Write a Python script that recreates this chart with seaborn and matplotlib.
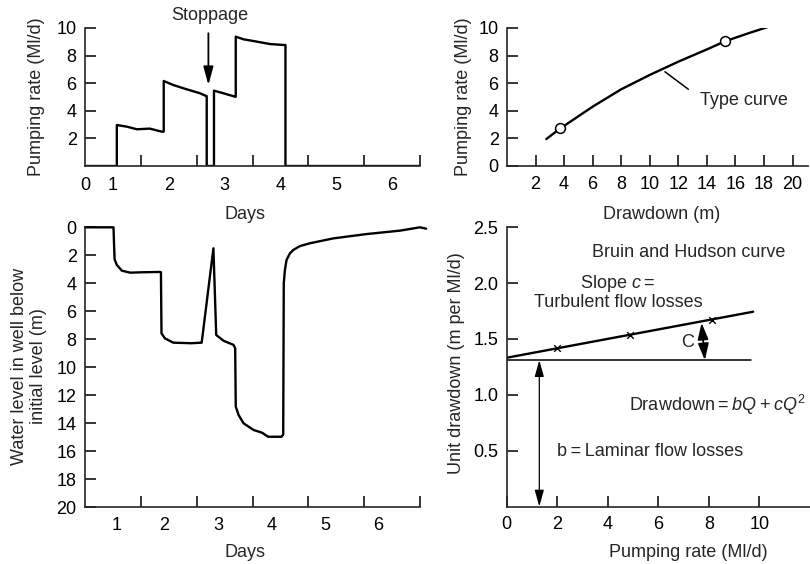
import matplotlib
matplotlib.use("Agg")
import matplotlib.pyplot as plt
import seaborn as sns

# ---------------- data ----------------
# Top-left: pumping rate (Ml/d) vs days (step record)
pump_days = [0.5, 1.07, 1.07, 1.25, 1.43, 1.66, 1.87, 1.91, 1.91, 2.08, 2.32, 2.56,
             2.67, 2.68, 2.68, 2.81, 2.81, 2.98, 3.19, 3.20, 3.20, 3.34, 3.58, 3.81,
             4.05, 4.09, 4.09, 6.5]
pump_rate = [0.0, 0.0, 2.97, 2.85, 2.66, 2.71, 2.49, 2.49, 6.16, 5.87, 5.56, 5.27,
             5.07, 5.07, 0.0, 0.0, 5.46, 5.27, 5.02, 5.02, 9.37, 9.18, 9.01, 8.84,
             8.77, 8.77, 0.0, 0.0]
stoppage_day = 2.71

# Top-right: type curve, pumping rate vs drawdown
type_draw = [2.75, 3.7, 6.0, 8.0, 10.0, 12.0, 14.0, 15.3, 17.0, 18.5]
type_rate = [1.95, 2.7, 4.3, 5.56, 6.6, 7.56, 8.45, 9.05, 9.65, 10.15]
obs_draw = [3.7, 15.3]
obs_rate = [2.72, 9.08]

# Bottom-left: water level below initial level (m) vs days
lvl_days = [0.5, 0.8, 1.01, 1.03, 1.07, 1.16, 1.31, 1.55, 1.84, 1.86, 1.87, 1.93, 2.08,
            2.40, 2.59, 2.80, 2.85, 2.98, 3.16, 3.19, 3.20, 3.25, 3.34, 3.52, 3.67,
            3.78, 4.02, 4.05, 4.06, 4.08, 4.11, 4.17, 4.23, 4.35, 4.53, 4.95, 5.55,
            6.14, 6.50, 6.61]
lvl_depth = [0.0, 0.0, 0.0, 2.29, 2.69, 3.10, 3.24, 3.21, 3.19, 3.20, 7.57, 7.93, 8.24,
             8.28, 8.24, 1.50, 7.69, 8.10, 8.40, 8.64, 12.81, 13.40, 14.00, 14.48, 14.67,
             14.96, 14.96, 14.80, 4.00, 3.05, 2.33, 1.86, 1.62, 1.34, 1.14, 0.79, 0.48,
             0.24, 0.0, 0.1]

# Bottom-right: Bruin and Hudson plot
bh_rate = [2.0, 4.88, 8.13]
bh_unit = [1.417, 1.537, 1.674]
fit_rate = [0.0, 9.75]
fit_unit = [1.332, 1.744]
b_rate = [0.0, 9.68]
b_unit = [1.31, 1.31]

# tick labels
tl_xlabels = ["0", "1", "2", "3", "4", "5", "6"]
bl_xlabels = ["1", "2", "3", "4", "5", "6"]

# ---------------- style ----------------
sns.set_style("ticks")
plt.rcParams["font.family"] = ["Liberation Sans", "DejaVu Sans"]
plt.rcParams["mathtext.fontset"] = "custom"
plt.rcParams["mathtext.rm"] = "Liberation Sans"
plt.rcParams["mathtext.it"] = "Liberation Sans:italic"
plt.rcParams["axes.linewidth"] = 1.2
FS = 13
K = "black"
LW = 1.7
TS = "\u2009"  # thin space

fig = plt.figure(figsize=(8.1, 5.64), dpi=100)
W, H = 810.0, 564.0


def box(l, t, r, b):
    return [l / W, 1 - b / H, (r - l) / W, (b - t) / H]


ax_tl = fig.add_axes(box(85, 28, 420, 166))
ax_tr = fig.add_axes(box(507, 28, 808, 166))
ax_bl = fig.add_axes(box(85, 227.3, 420, 507.3))
ax_br = fig.add_axes(box(506.7, 227.3, 810, 506.5))

for ax in (ax_tl, ax_tr, ax_bl, ax_br):
    sns.despine(ax=ax)
    ax.set_facecolor("white")
    ax.tick_params(which="both", direction="in", length=8, width=1.1,
                   labelsize=FS, pad=6, colors=K)

# ---------------- top-left ----------------
sns.lineplot(x=pump_days, y=pump_rate, ax=ax_tl, color=K, lw=LW,
             estimator=None, sort=False)
ax_tl.set_xlim(0.5, 6.5)
ax_tl.set_ylim(0, 10)
ax_tl.set_xticks([0.5, 1, 2, 3, 4, 5, 6], tl_xlabels)
ax_tl.set_xticks([1.5, 2.5, 3.5, 4.5, 5.5, 6.5], minor=True)
ax_tl.tick_params(axis="x", which="major", length=0, pad=8)
ax_tl.set_yticks([2, 4, 6, 8, 10])
ax_tl.set_xlabel("Days", fontsize=FS, va="center")
ax_tl.xaxis.set_label_coords(0.478, -0.348)
ax_tl.set_ylabel("Pumping rate (Ml/d)", fontsize=FS, va="center")
ax_tl.yaxis.set_label_coords(-0.146, 0.5)
ax_tl.annotate("", xy=(stoppage_day, 5.87), xytext=(stoppage_day, 9.62),
               arrowprops=dict(arrowstyle="-|>,head_length=1.1,head_width=0.3",
                               color=K, lw=1.3, mutation_scale=10,
                               shrinkA=0, shrinkB=0),
               annotation_clip=False)
ax_tl.text(2.74, 10.94, "Stoppage", ha="center", va="center", fontsize=FS,
           clip_on=False)

# ---------------- top-right ----------------
sns.lineplot(x=type_draw, y=type_rate, ax=ax_tr, color=K, lw=LW,
             estimator=None, sort=False)
sns.scatterplot(x=obs_draw, y=obs_rate, ax=ax_tr, marker="o", s=50,
                facecolor="white", edgecolor=K, linewidth=1.1, zorder=5)
ax_tr.set_xlim(0, 21.08)
ax_tr.set_ylim(0, 10)
ax_tr.set_xticks(list(range(2, 21, 2)))
ax_tr.set_yticks(list(range(0, 11, 2)))
ax_tr.tick_params(axis="x", pad=7)
ax_tr.set_xlabel("Drawdown (m)", fontsize=FS, va="center")
ax_tr.xaxis.set_label_coords(0.514, -0.348)
ax_tr.set_ylabel("Pumping rate (Ml/d)", fontsize=FS, va="center")
ax_tr.yaxis.set_label_coords(-0.146, 0.5)
ax_tr.plot([11.06, 12.70], [6.83, 5.56], color=K, lw=1.1)
ax_tr.text(13.5, 4.78, "Type curve", ha="left", va="center", fontsize=FS)

# ---------------- bottom-left ----------------
sns.lineplot(x=lvl_days, y=lvl_depth, ax=ax_bl, color=K, lw=LW,
             estimator=None, sort=False)
for ln in ax_bl.lines:
    ln.set_clip_on(False)
ax_bl.set_xlim(0.5, 6.5)
ax_bl.set_ylim(20, 0)
ax_bl.set_xticks([1.06, 1.91, 2.88, 3.85, 4.80, 5.75], bl_xlabels)
ax_bl.set_xticks([1.5, 2.5, 3.5, 4.5, 5.5, 6.5], minor=True)
ax_bl.tick_params(axis="x", which="major", length=0, pad=7)
ax_bl.set_yticks(list(range(0, 21, 2)))
ax_bl.set_xlabel("Days", fontsize=FS, va="center")
ax_bl.xaxis.set_label_coords(0.478, -0.162)
ax_bl.set_ylabel("Water level in well below\ninitial level (m)", fontsize=FS,
                 va="center", linespacing=1.1)
ax_bl.yaxis.set_label_coords(-0.167, 0.503)

# ---------------- bottom-right ----------------
sns.lineplot(x=fit_rate, y=fit_unit, ax=ax_br, color=K, lw=LW,
             estimator=None, sort=False)
sns.lineplot(x=b_rate, y=b_unit, ax=ax_br, color=K, lw=1.1,
             estimator=None, sort=False)
sns.scatterplot(x=bh_rate, y=bh_unit, ax=ax_br, marker="x", s=22,
                color=K, linewidth=1.0, zorder=5)
ax_br.set_xlim(0, 12)
ax_br.set_ylim(0, 2.5)
ax_br.set_xticks([0, 2, 4, 6, 8, 10])
ax_br.set_yticks([0.5, 1.0, 1.5, 2.0, 2.5])
ax_br.yaxis.set_major_formatter(matplotlib.ticker.FormatStrFormatter("%.1f"))
ax_br.tick_params(axis="x", pad=7)
ax_br.set_xlabel("Pumping rate (Ml/d)", fontsize=FS, va="center")
ax_br.xaxis.set_label_coords(0.599, -0.165)
ax_br.set_ylabel("Unit drawdown (m per Ml/d)", fontsize=FS, va="center")
ax_br.yaxis.set_label_coords(-0.164, 0.514)

ax_br.annotate("", xy=(1.29, 0.0), xytext=(1.29, 1.31),
               arrowprops=dict(arrowstyle="<|-|>,head_length=1.0,head_width=0.28",
                               color=K, lw=0.9, mutation_scale=10,
                               shrinkA=0, shrinkB=0),
               annotation_clip=False)
ax_br.annotate("", xy=(7.71, 1.645), xytext=(7.84, 1.31),
               arrowprops=dict(arrowstyle="<|-|>,head_length=1.0,head_width=0.32",
                               color=K, lw=1.3, mutation_scale=10,
                               shrinkA=0, shrinkB=0))
ax_br.text(7.16, 1.47, "C", ha="center", va="center", fontsize=FS)
ax_br.text(7.19, 2.27, "Bruin and Hudson curve", ha="center", va="center",
           fontsize=FS)
ax_br.text(4.4, 2.0, f"Slope $c${TS}=", ha="center", va="center", fontsize=FS)
ax_br.text(4.42, 1.83, "Turbulent flow losses", ha="center", va="center",
           fontsize=FS)
ax_br.text(4.83, 0.91, f"Drawdown{TS}={TS}$bQ${TS}+{TS}$cQ^2$", ha="left",
           va="center", fontsize=FS, clip_on=False)
ax_br.text(2.0, 0.49, f"b{TS}={TS}Laminar flow losses", ha="left", va="center",
           fontsize=FS)

fig.savefig("out.png", dpi=100, facecolor="white")
